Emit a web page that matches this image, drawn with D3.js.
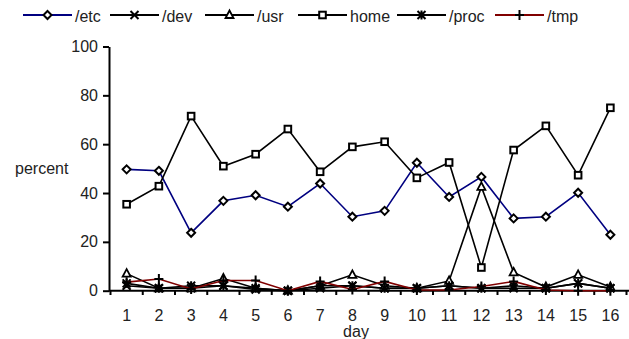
<!DOCTYPE html>
<html><head><meta charset="utf-8">
<script src="https://cdn.jsdelivr.net/npm/d3@7"></script>
<style>body{margin:0;background:#fff}svg{display:block;font-family:"Liberation Sans",Arial,sans-serif}</style>
</head><body><svg id="c" width="629" height="339"></svg>
<script>
const days = ["1","2","3","4","5","6","7","8","9","10","11","12","13","14","15","16"];
const seriesNames = ["/etc","/dev","/usr","home","/proc","/tmp"];
const etc  = [49.7,49.1,23.7,36.8,39.1,34.4,43.9,30.3,32.7,52.4,38.4,46.6,29.6,30.3,40.1,22.9];
const dev  = [2,1,1,2,0.5,0,1,2,1,1,2,1,1,1,3,1];
const usr  = [7,1,1,5,1,0,2,6.5,2,1,4,42.5,7.5,1.5,6.5,1.5];
const home = [35.4,42.8,71.5,51.0,55.9,66.2,48.7,58.9,61.0,46.2,52.5,9.5,57.6,67.5,47.3,74.9];
const proc = [3,1,2,2,1,0,2,2,1,1,2,1,2,1,3,1];
const tmp  = [3.5,4.8,0.7,4.2,4.2,0,3.8,0.5,3.8,0.3,0.3,1.7,3.8,0.3,0,0];
const yTicks = [0,20,40,60,80,100];

const colors = ["#000080","#000","#000","#000","#000","#800000"];
const shapes = ["diamond","x","triangle","square","star","plus"];
const data = [etc,dev,usr,home,proc,tmp];
const FS = 16;

const svg = d3.select("#c");
const x = d3.scaleBand().domain(days).range([110.5,626.5]);
const y = d3.scaleLinear().domain([0,100]).range([290.7,46.5]);

// y axis
const ya = svg.append("g").attr("transform","translate(109,0)")
  .call(d3.axisLeft(y).tickValues(yTicks).tickSize(6).tickSizeOuter(0).tickPadding(5));
ya.select(".domain").attr("stroke","#000").attr("stroke-width",2);
ya.selectAll(".tick line").attr("stroke-width",2);
ya.selectAll("text").attr("font-size",FS).attr("fill","#222").attr("font-family","Liberation Sans, Arial, sans-serif");

// x axis
const xa = svg.append("g").attr("transform","translate(0,290.7)")
  .call(d3.axisBottom(x).tickSize(0).tickPadding(19));
xa.select(".domain").remove();
svg.append("line").attr("x1",109).attr("x2",629).attr("y1",290.7).attr("y2",290.7).attr("stroke","#000").attr("stroke-width",2);
const bounds = days.map(d=>x(d)).concat([x(days[days.length-1])+x.bandwidth()]);
svg.append("g").selectAll("line").data(bounds).join("line")
  .attr("x1",d=>d).attr("x2",d=>d).attr("y1",290.7).attr("y2",295).attr("stroke","#000").attr("stroke-width",2);
xa.selectAll("text").attr("font-size",FS).attr("fill","#222").attr("font-family","Liberation Sans, Arial, sans-serif");

svg.append("text").attr("x",15).attr("y",174).attr("font-size",FS).attr("fill","#222").text("percent");
svg.append("text").attr("x",356).attr("y",337).attr("text-anchor","middle").attr("font-size",FS).attr("fill","#222").text("day");

function marker(g, shape, cx, cy){
  const s = 3.6;
  if(shape==="diamond"){
    g.append("path").attr("d",`M${cx},${cy-s-0.4}L${cx+s+0.4},${cy}L${cx},${cy+s+0.4}L${cx-s-0.4},${cy}Z`).attr("fill","#fff").attr("stroke","#000").attr("stroke-width",2);
  } else if(shape==="square"){
    g.append("rect").attr("x",cx-3.3).attr("y",cy-3.3).attr("width",6.6).attr("height",6.6).attr("fill","#fff").attr("stroke","#000").attr("stroke-width",2);
  } else if(shape==="triangle"){
    g.append("path").attr("d",`M${cx},${cy-4.5}L${cx+4},${cy+3}L${cx-4},${cy+3}Z`).attr("fill","#fff").attr("stroke","#000").attr("stroke-width",1.8);
  } else if(shape==="x"){
    g.append("path").attr("d",`M${cx-4},${cy-4}L${cx+4},${cy+4}M${cx-4},${cy+4}L${cx+4},${cy-4}`).attr("stroke","#000").attr("stroke-width",2);
  } else if(shape==="star"){
    g.append("path").attr("d",`M${cx-4},${cy-4}L${cx+4},${cy+4}M${cx-4},${cy+4}L${cx+4},${cy-4}M${cx},${cy-4.5}L${cx},${cy+4.5}`).attr("stroke","#000").attr("stroke-width",2);
  } else if(shape==="plus"){
    g.append("path").attr("d",`M${cx-4.5},${cy}L${cx+4.5},${cy}M${cx},${cy-5}L${cx},${cy+5}`).attr("stroke","#000").attr("stroke-width",2);
  }
}

const line = d3.line().x((d,i)=>x(days[i])+x.bandwidth()/2).y(d=>y(d));
data.forEach((vals,k)=>{
  const g = svg.append("g");
  g.append("path").datum(vals).attr("d",line).attr("fill","none").attr("stroke",colors[k]).attr("stroke-width",1.6);
  vals.forEach((v,i)=>marker(g, shapes[k], x(days[i])+x.bandwidth()/2, y(v)));
});

// legend
const legX = [23,110,205,298,397,495];
seriesNames.forEach((n,k)=>{
  const g = svg.append("g");
  const lx = legX[k];
  g.append("line").attr("x1",lx).attr("x2",lx+49).attr("y1",15).attr("y2",15).attr("stroke",colors[k]).attr("stroke-width",2);
  marker(g, shapes[k], lx+24.5, 15);
  g.append("text").attr("x",lx+52).attr("y",22).attr("font-size",FS).attr("fill","#222").text(n);
});
</script></body></html>
